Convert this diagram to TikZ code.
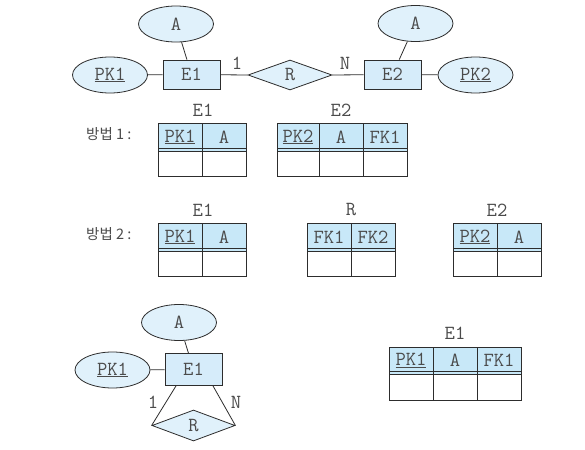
\documentclass[tikz,border=0pt]{standalone}
\usepackage{fontspec}
\newfontfamily\krfont{Noto Sans CJK KR}
\usetikzlibrary{shapes.geometric,calc}
\definecolor{ln}{RGB}{45,45,45}
\definecolor{tx}{RGB}{75,75,75}
\definecolor{ellfill}{RGB}{224,241,251}
\definecolor{entfill}{RGB}{214,236,250}
\definecolor{hdrfill}{RGB}{200,232,248}
\begin{document}
\begin{tikzpicture}[x=1pt,y=-1pt,
  every node/.style={font=\ttfamily\fontsize{20}{20}\selectfont, text=tx, inner sep=0pt},
  attr/.style={ellipse, draw=ln, fill=ellfill, minimum width=75pt, minimum height=36pt, line width=0.8pt},
  ent/.style={rectangle, draw=ln, fill=entfill, minimum width=57pt, minimum height=29pt, line width=0.8pt},
  rel/.style={diamond, draw=ln, fill=ellfill, minimum width=84pt, minimum height=30pt, line width=0.8pt},
  conn/.style={draw=ln, line width=0.8pt},
  hcell/.style={rectangle, draw=ln, fill=hdrfill, minimum height=28pt, line width=0.8pt},
  bcell/.style={rectangle, draw=ln, fill=white, minimum height=25pt, line width=0.8pt},
  sepline/.style={draw=ln, line width=0.8pt},
  kr/.style={font=\krfont\fontsize{14.5}{14.5}\selectfont, anchor=west}]
\useasboundingbox[fill=white] (0,0) rectangle (585,449);

% ---------- top ER diagram ----------
\node[attr] (a1) at (176,24) {A};
\node[attr] (pk1) at (110,75) {\underline{PK1}};
\node[ent] (e1) at (191.5,74.5) {E1};
\node[rel] (r) at (290,75) {R};
\node[ent] (e2) at (392.5,74.5) {E2};
\node[attr] (a2) at (415.5,23.5) {A};
\node[attr] (pk2) at (475.5,75) {\underline{PK2}};
\node (one1) at (237,63) {1};
\node (n1) at (345,63) {N};
\draw[conn] (a1) -- (e1);
\draw[conn] (pk1) -- (e1);
\draw[conn] (e1) -- (r.west);
\draw[conn] (r.east) -- (e2);
\draw[conn] (a2) -- (e2);
\draw[conn] (e2) -- (pk2);

% ---------- method 1 ----------
\node[kr] (m1) at (86,134) {방법 1 :};
\node (t1e1) at (203,110) {E1};
\node[hcell, minimum width=44pt] (h1a) at (180,137) {\underline{PK1}};
\node[hcell, minimum width=44pt] (h1b) at (224,137) {A};
\node[bcell, minimum width=44pt] (b1a) at (180,163.5) {};
\node[bcell, minimum width=44pt] (b1b) at (224,163.5) {};
\draw[sepline] (158,148.5) -- (246,148.5);

\node (t1e2) at (341,110) {E2};
\node[hcell, minimum width=42pt] (h2a) at (298,137) {\underline{PK2}};
\node[hcell, minimum width=44pt] (h2b) at (341,137) {A};
\node[hcell, minimum width=44pt] (h2c) at (385,137) {FK1};
\node[bcell, minimum width=42pt] (b2a) at (298,163.5) {};
\node[bcell, minimum width=44pt] (b2b) at (341,163.5) {};
\node[bcell, minimum width=44pt] (b2c) at (385,163.5) {};
\draw[sepline] (277,148.5) -- (407,148.5);

% ---------- method 2 ----------
\node[kr] (m2) at (86,234) {방법 2 :};
\node (t2e1) at (203,210) {E1};
\node[hcell, minimum width=44pt] (h3a) at (180,237) {\underline{PK1}};
\node[hcell, minimum width=44pt] (h3b) at (224,237) {A};
\node[bcell, minimum width=44pt] (b3a) at (180,263.5) {};
\node[bcell, minimum width=44pt] (b3b) at (224,263.5) {};
\draw[sepline] (158,248.5) -- (246,248.5);

\node (t2r) at (351,210) {R};
\node[hcell, minimum width=44pt] (h4a) at (329,237) {FK1};
\node[hcell, minimum width=44pt] (h4b) at (373,237) {FK2};
\node[bcell, minimum width=44pt] (b4a) at (329,263.5) {};
\node[bcell, minimum width=44pt] (b4b) at (373,263.5) {};
\draw[sepline] (307,248.5) -- (395,248.5);

\node (t2e2) at (497,210) {E2};
\node[hcell, minimum width=44pt] (h5a) at (475,237) {\underline{PK2}};
\node[hcell, minimum width=44pt] (h5b) at (519,237) {A};
\node[bcell, minimum width=44pt] (b5a) at (475,263.5) {};
\node[bcell, minimum width=44pt] (b5b) at (519,263.5) {};
\draw[sepline] (453,248.5) -- (541,248.5);

% ---------- bottom recursive ER ----------
\node[attr] (a3) at (179,322.5) {A};
\node[attr] (pk3) at (112.5,370) {\underline{PK1}};
\node[ent, minimum height=32pt] (e3) at (193.5,369.5) {E1};
\node[rel, minimum width=83pt, minimum height=31pt] (r3) at (193.5,425.5) {R};
\node (one3) at (153,402) {1};
\node (n3) at (236,402) {N};
\draw[conn] (a3) -- (e3);
\draw[conn] (pk3) -- (e3);
\draw[conn] ($(e3.south)+(-17.5,0)$) -- (r3.west);
\draw[conn] ($(e3.south)+(19.5,0)$) -- (r3.east);

\node (t3e1) at (455,333) {E1};
\node[hcell, minimum width=44pt, minimum height=27pt] (h6a) at (411,360.5) {\underline{PK1}};
\node[hcell, minimum width=44pt, minimum height=27pt] (h6b) at (455,360.5) {A};
\node[hcell, minimum width=44pt, minimum height=27pt] (h6c) at (499,360.5) {FK1};
\node[bcell, minimum width=44pt, minimum height=26pt] (b6a) at (411,387) {};
\node[bcell, minimum width=44pt, minimum height=26pt] (b6b) at (455,387) {};
\node[bcell, minimum width=44pt, minimum height=26pt] (b6c) at (499,387) {};
\draw[sepline] (389,371.5) -- (521,371.5);
\end{tikzpicture}
\end{document}
